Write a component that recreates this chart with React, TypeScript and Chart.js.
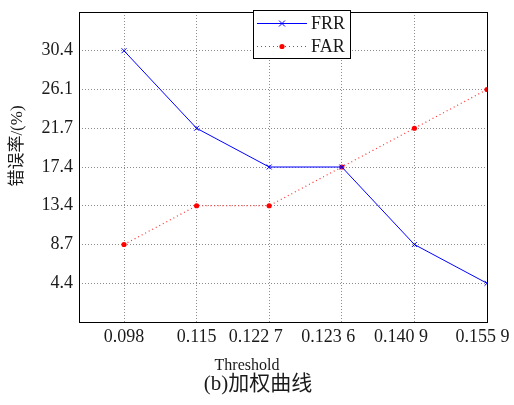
import React, { useEffect, useRef } from "react";
import { Chart, registerables } from "chart.js";

Chart.register(...registerables);

const categories = ["0.098", "0.115", "0.122 7", "0.123 6", "0.140 9", "0.155 9"];
// tick labels as typeset in the source figure (spaced labels sit left of their ticks)
const xTickLabels = ["0.098", "0.115", "0.122 7\u2002\u2002\u2002", "0.123 6\u2002\u2002\u2002", "0.140 9\u2002\u2002\u2002", "0.155 9\u2002"];
const yTickLabels = ["", "30.4", "26.1", "21.7", "17.4", "13.4", "8.7", "4.4", ""];
const frr = [30.4, 21.7, 17.4, 17.4, 8.7, 4.4];
const far = [8.7, 13.4, 13.4, 17.4, 21.7, 26.1];
const seriesNames = ["FRR", "FAR"];
const xTitle = "Threshold";
const yTitle = "错误率/(%)";
const caption = "(b)加权曲线";

const SERIF = '"Liberation Serif", "DejaVu Serif", serif';
const CJK = '"Liberation Serif", "Noto Sans CJK SC", serif';

const decorPlugin = {
  id: "decor",
  afterDraw(chart: any) {
    const ctx = chart.ctx;
    const a = chart.chartArea;
    ctx.save();
    // frame
    ctx.strokeStyle = "#000";
    ctx.lineWidth = 1;
    ctx.setLineDash([]);
    ctx.strokeRect(Math.round(a.left) + 0.5, Math.round(a.top) + 0.5, Math.round(a.right - a.left), Math.round(a.bottom - a.top));

    // legend
    const lx = 253, ly = 10, lw = 97, lh = 48;
    ctx.fillStyle = "#fff";
    ctx.fillRect(lx, ly, lw, lh);
    ctx.strokeStyle = "#000";
    ctx.strokeRect(lx + 0.5, ly + 0.5, lw, lh);
    const rows = [ly + 13.5, ly + 36.5];
    // FRR
    ctx.strokeStyle = "#0000ff";
    ctx.lineWidth = 1;
    ctx.beginPath();
    ctx.moveTo(257, rows[0]);
    ctx.lineTo(307, rows[0]);
    ctx.stroke();
    ctx.beginPath();
    ctx.moveTo(279, rows[0] - 3);
    ctx.lineTo(285, rows[0] + 3);
    ctx.moveTo(285, rows[0] - 3);
    ctx.lineTo(279, rows[0] + 3);
    ctx.stroke();
    // FAR
    ctx.strokeStyle = "#ff2020";
    ctx.setLineDash([1, 3]);
    ctx.beginPath();
    ctx.moveTo(257, rows[1]);
    ctx.lineTo(307, rows[1]);
    ctx.stroke();
    ctx.setLineDash([]);
    ctx.fillStyle = "#ff0000";
    ctx.beginPath();
    ctx.arc(282, rows[1], 2.6, 0, Math.PI * 2);
    ctx.fill();
    ctx.fillStyle = "#1a1a1a";
    ctx.font = "18px " + SERIF;
    ctx.textAlign = "left";
    ctx.textBaseline = "middle";
    ctx.fillText(seriesNames[0], 311, rows[0] + 1);
    ctx.fillText(seriesNames[1], 311, rows[1] + 1);

    // titles
    ctx.fillStyle = "#1a1a1a";
    ctx.textAlign = "center";
    ctx.textBaseline = "middle";
    ctx.font = "16px " + SERIF;
    ctx.fillText(xTitle, 247, 366);
    ctx.font = "21px " + CJK;
    ctx.fillText(caption, 258, 384);
    ctx.save();
    ctx.translate(18, 146);
    ctx.rotate(-Math.PI / 2);
    ctx.font = "17px " + CJK;
    ctx.fillText(yTitle, 0, 0);
    ctx.restore();
    ctx.restore();
  },
};

const zeroPad = (s: any) => {
  s.paddingTop = 0;
  s.paddingBottom = 0;
  s.paddingLeft = 0;
  s.paddingRight = 0;
};

export default function App() {
  const ref = useRef<HTMLCanvasElement | null>(null);
  useEffect(() => {
    if (!ref.current) return;
    const toPts = (arr: number[]) => arr.map((v, i) => ({ x: i, y: String(v) }));
    const chart = new Chart(ref.current, {
      type: "line",
      data: {
        datasets: [
          {
            label: seriesNames[0],
            data: toPts(frr) as any,
            borderColor: "#0000ff",
            borderWidth: 1,
            pointStyle: "crossRot",
            pointRadius: 3.5,
            pointBorderColor: "#0000ff",
            pointBorderWidth: 1,
            pointBackgroundColor: "#0000ff",
            tension: 0,
          },
          {
            label: seriesNames[1],
            data: toPts(far) as any,
            borderColor: "#ff3030",
            borderWidth: 1.2,
            borderDash: [1, 3],
            pointStyle: "circle",
            pointRadius: 2.6,
            pointBorderWidth: 0,
            pointBackgroundColor: "#ff0000",
            tension: 0,
          },
        ],
      },
      options: {
        animation: false,
        responsive: false,
        layout: { padding: { top: 12, right: 27, left: 0, bottom: 0 } },
        plugins: { legend: { display: false }, tooltip: { enabled: false } },
        scales: {
          x: {
            type: "linear",
            min: -0.62,
            max: categories.length - 1,
            afterBuildTicks: (s: any) => {
              s.ticks = categories.map((_, i) => ({ value: i }));
            },
            afterFit: (s: any) => {
              s.height = 83;
              zeroPad(s);
            },
            ticks: {
              callback: (v: any) => xTickLabels[v] ?? "",
              font: { family: SERIF, size: 18 },
              color: "#1a1a1a",
              padding: 4,
              maxRotation: 0,
              autoSkip: false,
            },
            grid: { color: "#8c8c8c", drawTicks: false, lineWidth: 1 },
            border: { display: false, dash: [1, 2] },
          },
          y: {
            type: "category",
            labels: yTickLabels,
            offset: false,
            afterFit: (s: any) => {
              s.width = 79;
              zeroPad(s);
            },
            ticks: {
              font: { family: SERIF, size: 18 },
              color: "#1a1a1a",
              padding: 6,
              autoSkip: false,
            },
            grid: { color: "#8c8c8c", drawTicks: false, lineWidth: 1 },
            border: { display: false, dash: [1, 2] },
          },
        },
      } as any,
      plugins: [decorPlugin],
    });
    return () => chart.destroy();
  }, []);
  return (
    <div style={{ position: "fixed", left: 0, top: 0, width: 514, height: 405, background: "#fff" }}>
      <canvas ref={ref} width={514} height={405} style={{ width: 514, height: 405, display: "block" }} />
    </div>
  );
}
